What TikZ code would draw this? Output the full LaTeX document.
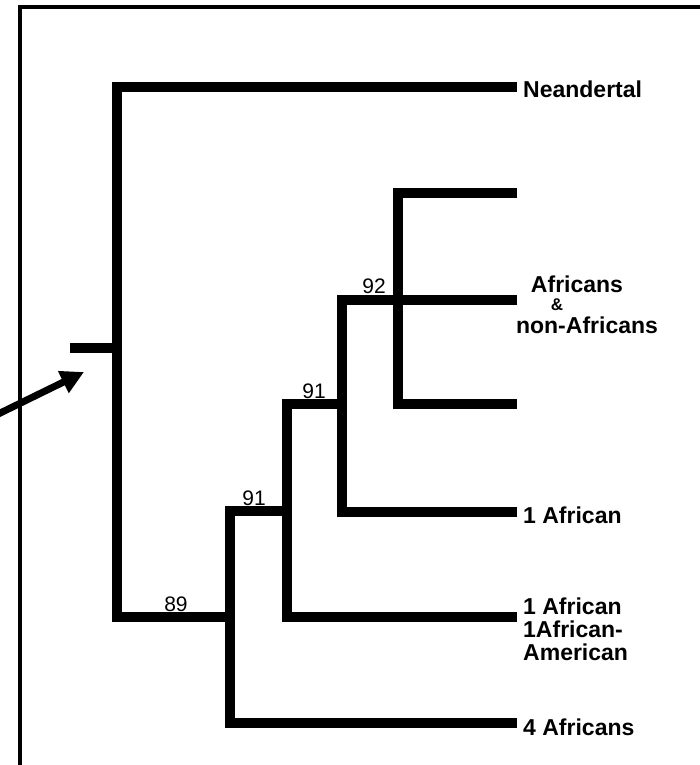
\documentclass[tikz,border=0pt]{standalone}
\usepackage{fontspec}
\setmainfont{Liberation Sans}
\usetikzlibrary{arrows.meta}
\begin{document}
\begin{tikzpicture}[x=1pt,y=-1pt,
  branch/.style={line width=10pt, line join=miter},
  framerule/.style={line width=4.5pt},
  pointer/.style={line width=7pt, -{Triangle[length=23pt,width=23pt]}},
  leaflabel/.style={anchor=base west, inner sep=0pt, font=\fontsize{23}{24}\selectfont\bfseries},
  support/.style={anchor=base, inner sep=0pt, font=\fontsize{21}{22}\selectfont}]
\useasboundingbox (0,0) rectangle (700,765);
\fill[white] (0,0) rectangle (700,765);

% open frame: top and left rules only
\coordinate (fTR) at (710,7);
\coordinate (fTL) at (20,7);
\coordinate (fBL) at (20,775);
\draw[framerule] (fTR) -- (fTL) -- (fBL);

% internal nodes of the tree
\coordinate (stub) at (70,348);
\coordinate (root) at (117,348);
\coordinate (n89)  at (230,617);
\coordinate (n91a) at (287,511);
\coordinate (n91b) at (342,404);
\coordinate (n92)  at (398,300);

% tips
\coordinate (tNean) at (517,87);
\coordinate (tA)    at (517,193);
\coordinate (tB)    at (517,300);
\coordinate (tC)    at (517,404);
\coordinate (t1Af)  at (517,512);
\coordinate (t1AA)  at (517,617);
\coordinate (t4Af)  at (517,723);

% branches
\draw[branch] (tA) -| (n92) |- (tC);
\draw[branch] (tB) -| (n91b) |- (t1Af);
\draw[branch] (n91b) -| (n91a) |- (t1AA);
\draw[branch] (n91a) -| (n89) |- (t4Af);
\draw[branch] (n89) -| (root) |- (tNean);
\draw[branch] (stub) -- (root);

% bootstrap support values
\node[support] (s89)  at (176,611) {89};
\node[support] (s91a) at (254,505) {91};
\node[support] (s91b) at (314,398) {91};
\node[support] (s92)  at (374,293) {92};

% tip labels
\node[leaflabel] (lNean) at (523,98)  {Neandertal};
\node[leaflabel, anchor=base] (lAfr) at (577,292) {Africans};
\node[leaflabel, anchor=base, font=\fontsize{17}{18}\selectfont\bfseries,
      text height=11pt, text depth=0pt] (lAmp) at (557,310) {\&};
\node[leaflabel, anchor=base] (lNon) at (587,333) {non-Africans};
\node[leaflabel] (l1Af)  at (523,523) {1 African};
\node[leaflabel] (l1AfB) at (523,614) {1 African};
\node[leaflabel] (l1AA)  at (523,637) {1African-};
\node[leaflabel] (lAm)   at (523,660) {American};
\node[leaflabel] (l4Af)  at (523,735) {4 Africans};

% pointer to the root
\coordinate (aStart) at (-10,418);
\coordinate (aTip) at (84,372);
\draw[pointer] (aStart) -- (aTip);
\end{tikzpicture}
\end{document}
